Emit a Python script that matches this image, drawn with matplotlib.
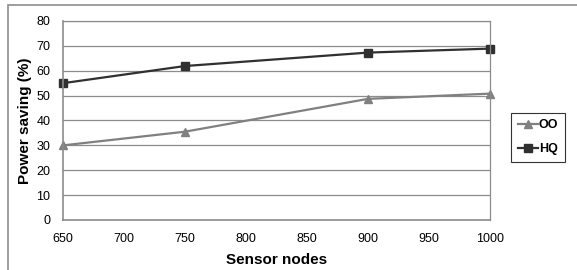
import matplotlib
matplotlib.use("Agg")
from matplotlib import pyplot as plt
from matplotlib.patches import Rectangle

# data
nodes = [650, 750, 900, 1000]
oo_saving = [30, 35.5, 48.7, 50.8]
hq_saving = [55, 61.9, 67.3, 68.9]
y_ticks = [0, 10, 20, 30, 40, 50, 60, 70, 80]
x_ticks = [650, 700, 750, 800, 850, 900, 950, 1000]

plt.rcParams['font.family'] = ['Liberation Sans', 'DejaVu Sans']

fig = plt.figure(figsize=(5.77, 2.70), dpi=100)
# outer chart border (cut at right/bottom like the source)
fig.patches.append(Rectangle((8 / 577, -0.05), 1.0, 1.05 - 5 / 270, transform=fig.transFigure,
                             fill=False, edgecolor='#8c8c8c', linewidth=1.2))

ax = fig.add_axes([63 / 577, 1 - 220 / 270, (490 - 63) / 577, (220 - 21) / 270])

ax.plot(nodes, oo_saving, color='#808080', marker='^', markersize=6, linewidth=1.6, label='OO')
ax.plot(nodes, hq_saving, color='#303030', marker='s', markersize=5.5, linewidth=1.6, label='HQ')

ax.set_xlim(650, 1000)
ax.set_ylim(0, 80)
ax.set_xticks(x_ticks)
ax.set_yticks(y_ticks)
ax.tick_params(labelsize=9, length=0)
ax.tick_params(axis='y', pad=9)
ax.tick_params(axis='x', pad=9)
ax.yaxis.grid(True, color='#8c8c8c', linewidth=0.9)
ax.set_axisbelow(True)
for side in ['top', 'right']:
    ax.spines[side].set_color('#8c8c8c')
    ax.spines[side].set_linewidth(0.9)
for side in ['left', 'bottom']:
    ax.spines[side].set_color('#8c8c8c')
    ax.spines[side].set_linewidth(1.2)
for line in ax.get_lines():
    line.set_clip_on(False)

ax.set_xlabel('Sensor nodes', fontsize=11, fontweight='bold', labelpad=6)
ax.set_ylabel('Power saving (%)', fontsize=11, fontweight='bold', labelpad=3)

leg = ax.legend(loc='center left', bbox_to_anchor=(1.05, 0.415),
                prop={'weight': 'bold', 'size': 9}, frameon=True, fancybox=False,
                edgecolor='#000000', handlelength=1.6, handletextpad=0.1,
                borderpad=0.5, labelspacing=0.95, borderaxespad=0)
leg.get_frame().set_linewidth(0.8)

fig.savefig('out.png', dpi=100)
